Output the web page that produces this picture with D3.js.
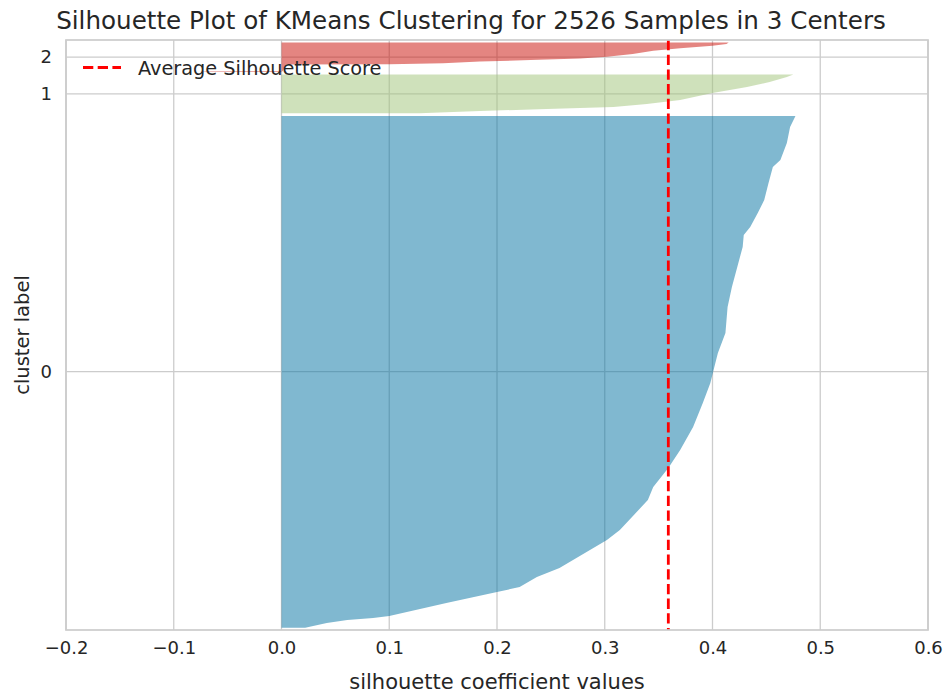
<!DOCTYPE html>
<html>
<head>
<meta charset="utf-8">
<script src="https://cdn.jsdelivr.net/npm/d3@7"></script>
<style>
  html, body { margin: 0; padding: 0; background: #fff; }
  svg { display: block; font-family: "DejaVu Sans", sans-serif; }
</style>
</head>
<body>
<svg id="chart" width="945" height="695"></svg>
<script>
// Silhouette coefficients per cluster, sorted ascending: sample rank -> value
const clusterSizes = [2227, 170, 129];
const clusterColors = ["#0272a2", "#9fc377", "#ca0b03"];

const cluster0Ranks  = [0, 20, 33, 42, 51, 107, 155, 177, 220, 260, 381, 425, 555, 612, 695, 773, 873, 977, 1064, 1121, 1195, 1282, 1395, 1482, 1569, 1656, 1708, 1743, 1804, 1860, 1934, 2004, 2034, 2108, 2178, 2226];
const cluster0Values = [0.022, 0.042, 0.061, 0.085, 0.100, 0.153, 0.200, 0.221, 0.237, 0.258, 0.302, 0.314, 0.340, 0.345, 0.359, 0.370, 0.382, 0.391, 0.398, 0.401, 0.405, 0.412, 0.414, 0.418, 0.423, 0.428, 0.429, 0.435, 0.442, 0.448, 0.452, 0.456, 0.463, 0.469, 0.472, 0.477];

const cluster1Ranks  = [0, 10, 19, 28, 41, 58, 88, 115, 136, 158, 169];
const cluster1Values = [0.128, 0.184, 0.246, 0.308, 0.339, 0.370, 0.400, 0.432, 0.453, 0.469, 0.475];

const cluster2Ranks  = [0, 2, 3, 32, 33, 38, 45, 52, 59, 66, 78, 92, 103, 114, 122, 128];
const cluster2Values = [-0.076, -0.070, 0.001, 0.004, 0.100, 0.150, 0.184, 0.231, 0.277, 0.302, 0.326, 0.345, 0.370, 0.400, 0.413, 0.415];

const averageScore = 0.359;

const xTicks = [-0.2, -0.1, 0.0, 0.1, 0.2, 0.3, 0.4, 0.5, 0.6];
const yTickLabels = ["0", "1", "2"];

const titleText = "Silhouette Plot of KMeans Clustering for 2526 Samples in 3 Centers";
const xLabelText = "silhouette coefficient values";
const yLabelText = "cluster label";
const legendText = "Average Silhouette Score";

// ---- layout ----
const svg = d3.select("#chart");
const margin = { left: 66, right: 17, top: 40, bottom: 65 };
const W = 945, H = 695;
const innerW = W - margin.left - margin.right;
const innerH = H - margin.top - margin.bottom;
const gap = 10;

const total = d3.sum(clusterSizes) + (clusterSizes.length + 1) * gap;
const x = d3.scaleLinear().domain([-0.2, 0.6]).range([margin.left, margin.left + innerW]);
const y = d3.scaleLinear().domain([0, total]).range([margin.top + innerH, margin.top]);

const clusters = [
  { ranks: cluster0Ranks, values: cluster0Values },
  { ranks: cluster1Ranks, values: cluster1Values },
  { ranks: cluster2Ranks, values: cluster2Values }
];

// lower edge of each cluster band and the tick at its middle
let yLower = gap;
const yTicks = [];
clusters.forEach((c, i) => {
  c.lower = yLower;
  yTicks.push(yLower + clusterSizes[i] / 2);
  yLower += clusterSizes[i] + gap;
});

const textColor = "#262626";
const gridColor = "#cccccc";

// grid
const grid = svg.append("g");
grid.selectAll("line.vx").data(xTicks).join("line")
  .attr("x1", d => x(d)).attr("x2", d => x(d))
  .attr("y1", margin.top).attr("y2", margin.top + innerH)
  .attr("stroke", gridColor).attr("stroke-width", 1.3);
grid.selectAll("line.hy").data(yTicks).join("line")
  .attr("x1", margin.left).attr("x2", margin.left + innerW)
  .attr("y1", d => y(d)).attr("y2", d => y(d))
  .attr("stroke", gridColor).attr("stroke-width", 1.3);

// silhouette bands
const area = d3.area()
  .x0(x(0))
  .x1(d => x(d[1]))
  .y(d => y(d[0]));

clusters.forEach((c, i) => {
  const pts = c.ranks.map((r, j) => [c.lower + r, c.values[j]]);
  svg.append("path")
    .attr("d", area(pts))
    .attr("fill", clusterColors[i])
    .attr("fill-opacity", 0.5)
    .attr("stroke", "none");
});

// average score
svg.append("line")
  .attr("x1", x(averageScore)).attr("x2", x(averageScore))
  .attr("y1", margin.top).attr("y2", margin.top + innerH)
  .attr("stroke", "#ff0000").attr("stroke-width", 2.8)
  .attr("stroke-dasharray", "10.3,4.4");

// frame
svg.append("rect")
  .attr("x", margin.left).attr("y", margin.top)
  .attr("width", innerW).attr("height", innerH)
  .attr("fill", "none").attr("stroke", gridColor).attr("stroke-width", 1.7);

// axes (labels only, no tick marks)
const xAxis = d3.axisBottom(x).tickValues(xTicks).tickSize(0).tickPadding(11)
  .tickFormat(d => d3.format(".1f")(d).replace("-", "\u2212"));
const gx = svg.append("g").attr("transform", `translate(0,${margin.top + innerH})`).call(xAxis);
gx.select(".domain").remove();
gx.selectAll("text").attr("fill", textColor).style("font-size", "18px").style("font-family", "DejaVu Sans");

const yAxis = d3.axisLeft(y).tickValues(yTicks).tickSize(0).tickPadding(14)
  .tickFormat((d, i) => yTickLabels[i]);
const gy = svg.append("g").attr("transform", `translate(${margin.left},0)`).call(yAxis);
gy.select(".domain").remove();
gy.selectAll("text").attr("fill", textColor).style("font-size", "18px").style("font-family", "DejaVu Sans");

// titles
svg.append("text")
  .attr("x", margin.left + innerW / 2 - 26).attr("y", 29)
  .attr("text-anchor", "middle").attr("fill", textColor)
  .style("font-size", "24.6px")
  .text(titleText);

svg.append("text")
  .attr("x", margin.left + innerW / 2).attr("y", 689)
  .attr("text-anchor", "middle").attr("fill", textColor)
  .style("font-size", "21px")
  .text(xLabelText);

svg.append("text")
  .attr("transform", `translate(29,${margin.top + innerH / 2}) rotate(-90)`)
  .attr("text-anchor", "middle").attr("fill", textColor)
  .style("font-size", "19.5px")
  .text(yLabelText);

// legend
const lg = svg.append("g");
lg.append("line")
  .attr("x1", 83).attr("x2", 121).attr("y1", 67.5).attr("y2", 67.5)
  .attr("stroke", "#ff0000").attr("stroke-width", 2.8)
  .attr("stroke-dasharray", "10.3,4.4");
lg.append("text")
  .attr("x", 138).attr("y", 74.5)
  .attr("fill", textColor).style("font-size", "19.3px")
  .text(legendText);
</script>
</body>
</html>
